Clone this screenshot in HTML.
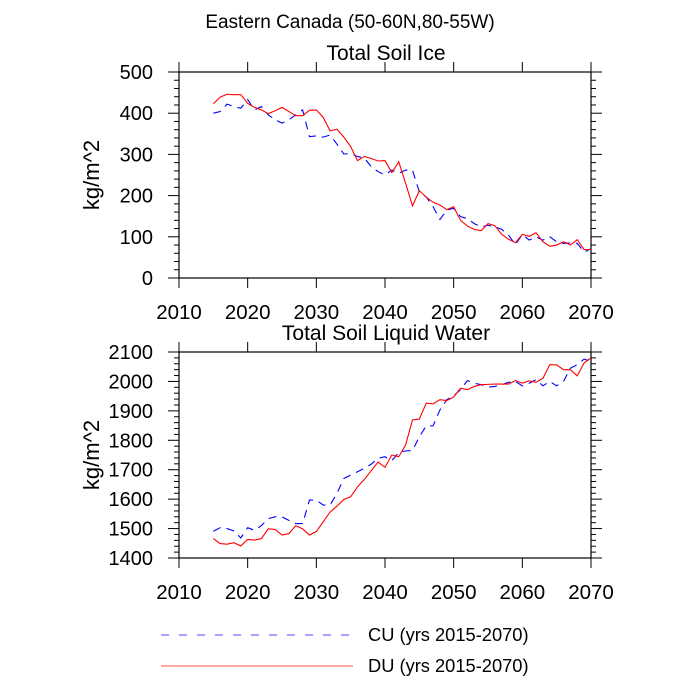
<!DOCTYPE html>
<html><head><meta charset="utf-8"><style>
body{margin:0;background:#fff}
svg{display:block;font-family:"Liberation Sans",sans-serif}
</style></head><body>
<svg id="c" width="700" height="700" xmlns="http://www.w3.org/2000/svg">
<text x="350" y="28" font-size="19" text-anchor="middle">Eastern Canada (50-60N,80-55W)</text>
<g id="p1"></g>
<g id="p2"></g>
<g>
<line x1="161" y1="635" x2="353" y2="635" stroke="#6f6fff" stroke-width="1.2" stroke-dasharray="8,10"/>
<text x="368" y="641" font-size="18.3">CU (yrs 2015-2070)</text>
<line x1="161" y1="666" x2="353" y2="666" stroke="#ff7070" stroke-width="1.2"/>
<text x="368" y="672" font-size="18.3">DU (yrs 2015-2070)</text>
</g>
</svg>
<script>
const years=[];for(let y=2015;y<=2070;y++)years.push(y);
const xTicks=[2010,2020,2030,2040,2050,2060,2070];
const iceTicks=[0,100,200,300,400,500];
const waterTicks=[1400,1500,1600,1700,1800,1900,2000,2100];
const iceDU=[423,439,446,445,445,424,414,408,399,406,414,404,394,394,407,408,390,357,361,342,319,285,295,290,284,285,256,282,230,175,212,196,184,177,166,173,140,126,118,115,132,127,106,94,86,106,101,110,88,77,80,88,80,93,69,69];
const iceCU=[400,404,422,416,412,433,408,416,396,384,376,384,396,408,343,345,342,347,325,301,302,295,291,270,258,250,262,254,262,262,209,197,173,142,165,169,149,144,132,124,128,124,118,104,81,106,92,100,92,100,88,84,85,84,63,71];
const waterDU=[1466,1449,1447,1452,1441,1463,1461,1466,1499,1497,1478,1483,1510,1499,1478,1490,1523,1556,1576,1599,1608,1642,1667,1697,1726,1708,1750,1744,1784,1869,1872,1926,1924,1938,1935,1947,1977,1972,1983,1989,1990,1991,1991,1991,2003,1994,2002,1997,2011,2057,2056,2040,2040,2019,2063,2080];
const waterCU=[1491,1503,1500,1492,1468,1503,1494,1510,1534,1540,1540,1528,1517,1517,1597,1597,1580,1580,1619,1670,1682,1693,1705,1719,1739,1744,1731,1758,1764,1765,1812,1849,1849,1903,1938,1951,1972,2003,1994,1989,1981,1983,1989,1997,2000,1985,1994,2006,1985,2000,1985,2000,2045,2057,2076,2068];
const NS="http://www.w3.org/2000/svg";
const L=179,R=591;
function mk(p,t,a){const e=document.createElementNS(NS,t);for(const k in a)e.setAttribute(k,a[k]);p.appendChild(e);return e;}
function panel(g,top,bot,ymin,ymax,yt,title,cu,du,pfx){
 const X=v=>L+(v-2010)/60*(R-L);
 const Y=v=>bot-(v-ymin)/(ymax-ymin)*(bot-top);
 const fr=mk(g,'rect',{x:L,y:top,width:R-L,height:bot-top,fill:'none',stroke:'#000','stroke-width':1.2});
 
 
 const tt=mk(g,'text',{x:(L+R)/2+1,y:top-12,'font-size':21,'text-anchor':'middle'});tt.textContent=title;
 
 
 const yl=mk(g,'text',{x:0,y:0,'font-size':22,'text-anchor':'middle',transform:`translate(99,${(top+bot)/2}) rotate(-90)`});yl.textContent='kg/m^2';
 
 
 xTicks.forEach(v=>{const x=X(v);
  mk(g,'line',{x1:x,y1:bot,x2:x,y2:bot+10,stroke:'#000'});
  mk(g,'line',{x1:x,y1:top,x2:x,y2:top-10,stroke:'#000'});
  const t=mk(g,'text',{x:x,y:bot+41,'font-size':20.5,'text-anchor':'middle'});t.textContent=v;
  
  });
 for(let v=ymin;v<=ymax;v+=20){const y=Y(v);const maj=(v-ymin)%100===0;const len=maj?11:5;
  mk(g,'line',{x1:L,y1:y,x2:L-len,y2:y,stroke:'#000'});
  mk(g,'line',{x1:R,y1:y,x2:R+len,y2:y,stroke:'#000'});}
 yt.forEach(v=>{const t=mk(g,'text',{x:L-26,y:Y(v)+7,'font-size':20,'text-anchor':'end'});t.textContent=v;
  
  });
 const pc=mk(g,'polyline',{points:years.map((yr,i)=>X(yr)+','+Y(cu[i])).join(' '),fill:'none',stroke:'#0000ff','stroke-width':1.1,'stroke-dasharray':'8,6'});
 
 
 const pd=mk(g,'polyline',{points:years.map((yr,i)=>X(yr)+','+Y(du[i])).join(' '),fill:'none',stroke:'#ff0000','stroke-width':1.1});
 
 
}
panel(document.getElementById('p1'),72,278,0,500,iceTicks,'Total Soil Ice',iceCU,iceDU,'ice');
panel(document.getElementById('p2'),352,558,1400,2100,waterTicks,'Total Soil Liquid Water',waterCU,waterDU,'water');
</script>
</body></html>
